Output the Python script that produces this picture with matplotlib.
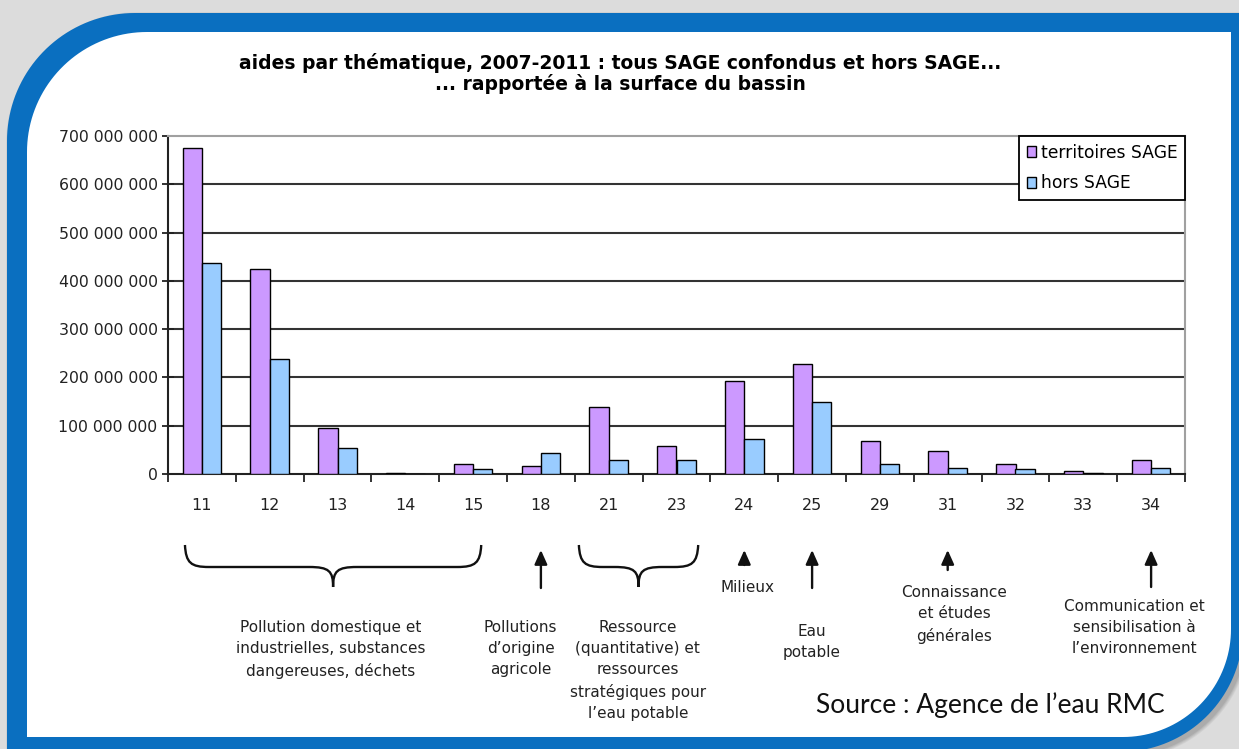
import numpy as np
import matplotlib as mpl
mpl.use('Agg')
import matplotlib.pyplot as plt
from matplotlib.patches import Polygon, Patch, PathPatch
from matplotlib.path import Path

# data
categories = ['11', '12', '13', '14', '15', '18', '21', '23', '24', '25', '29', '31', '32', '33', '34']
territoires_sage = [676e6, 424e6, 96e6, 3e6, 20e6, 17e6, 139e6, 58e6, 193e6, 227e6, 68e6, 48e6, 20e6, 7e6, 30e6]
hors_sage = [438e6, 238e6, 53e6, 0.5e6, 10e6, 44e6, 30e6, 30e6, 72e6, 149e6, 20e6, 13e6, 10e6, 3e6, 13e6]
yticks = [0, 100e6, 200e6, 300e6, 400e6, 500e6, 600e6, 700e6]

title1 = 'aides par thématique, 2007-2011 : tous SAGE confondus et hors SAGE...'
title2 = '... rapportée à la surface du bassin'

# (x position in category units, top y in px, text)
group_labels = [
    (1.9, 620, 'Pollution domestique et\nindustrielles, substances\ndangereuses, déchets'),
    (4.7, 620, 'Pollutions\nd\u2019origine\nagricole'),
    (6.43, 620, 'Ressource\n(quantitative) et\nressources\nstratégiques pour\nl\u2019eau potable'),
    (9.0, 624, 'Eau\npotable'),
    (11.1, 585, 'Connaissance\net études\ngénérales'),
    (13.76, 599, 'Communication et\nsensibilisation à\nl\u2019environnement'),
]
braces = [(-0.25, 4.12), (5.56, 7.32)]
arrows = [(5, 588), (8, 565), (9, 588), (11, 570), (14, 587)]  # category index, tail y (px)

W, H = 1239, 749
c_purple = '#cc99ff'
c_blue = '#99ccff'
c_frame = '#0a6fc0'
font = ['DejaVu Sans']

fig = plt.figure(figsize=(W/100.0, H/100.0), dpi=100, facecolor='#dcdcdc')

# background axes in pixel coords (y down)
bg = fig.add_axes([0, 0, 1, 1], zorder=0)
bg.set_xlim(0, W)
bg.set_ylim(H, 0)
bg.axis('off')


def diag_rect(x0, y0, x1, y1, r_tl, r_br):
    t = np.linspace(0, np.pi/2, 40)
    tl = np.column_stack([x0 + r_tl - r_tl*np.cos(t), y0 + r_tl - r_tl*np.sin(t)])
    br = np.column_stack([x1 - r_br + r_br*np.cos(t), y1 - r_br + r_br*np.sin(t)])
    return np.vstack([tl, [[x1, y0]], br, [[x0, y1]]])

# soft shadow
for k, a in enumerate([0.05, 0.05, 0.06, 0.07]):
    d = 4 - k
    bg.add_patch(Polygon(diag_rect(7 - d + 3, 13 - d + 3, 1243 + d + 3, 752 + d + 3, 128 + d, 123 + d),
                         closed=True, facecolor='black', edgecolor='none', alpha=a))
bg.add_patch(Polygon(diag_rect(7, 13, 1243, 752, 128, 123), closed=True, facecolor=c_frame, edgecolor='none'))
bg.add_patch(Polygon(diag_rect(27, 32, 1231, 737, 120, 108), closed=True, facecolor='white', edgecolor='none'))

# title
bg.text(620, 63, title1, ha='center', va='center', fontsize=13.5, fontweight='bold', family=font)
bg.text(620, 84, title2, ha='center', va='center', fontsize=13.5, fontweight='bold', family=font)

# chart
ax = fig.add_axes([168/W, (H-474)/H, (1185-168)/W, (474-136)/H], zorder=1)
ax.set_facecolor('white')
x = np.arange(len(categories))
bw = 1/3.5
ax.bar(x - bw/2, territoires_sage, bw, color=c_purple, edgecolor='black', linewidth=1.0, zorder=3, label='territoires SAGE')
ax.bar(x + bw/2, hors_sage, bw, color=c_blue, edgecolor='black', linewidth=1.0, zorder=3, label='hors SAGE')

ax.set_xlim(-0.5, len(categories) - 0.5)
ax.set_ylim(0, 700e6)
ax.set_yticks(yticks)
ax.set_yticklabels([('%d' % v if v == 0 else '{:,}'.format(int(v)).replace(',', ' ')) for v in yticks],
                   fontsize=11.3, family=font, color='#222222')
for v in yticks[1:-1]:
    ax.axhline(v, color='#333333', linewidth=1.5, zorder=1)

ax.set_xticks(np.arange(-0.5, len(categories), 1.0))
ax.set_xticklabels([])
ax.set_xticks(x, minor=True)
ax.set_xticklabels(categories, minor=True, fontsize=11.5, family=font, color='#222222')
ax.tick_params(axis='x', which='major', direction='out', length=6, width=1.3, color='#222222')
ax.tick_params(axis='x', which='minor', length=0, pad=17)
ax.tick_params(axis='y', which='major', direction='inout', length=9, width=1.3, color='#222222', pad=3)

for s in ['left', 'bottom']:
    ax.spines[s].set_color('#222222')
    ax.spines[s].set_linewidth(1.5)
for s in ['top', 'right']:
    ax.spines[s].set_color('#a0a0a0')
    ax.spines[s].set_linewidth(1.5)

leg_handles = [Patch(facecolor=c_purple, edgecolor='black', label='territoires SAGE'),
               Patch(facecolor=c_blue, edgecolor='black', label='hors SAGE')]
leg = ax.legend(handles=leg_handles, loc='upper right', bbox_to_anchor=(1.0, 1.0), borderaxespad=0,
                fancybox=False, edgecolor='black', framealpha=1, prop={'family': font, 'size': 12.3},
                handlelength=0.55, handleheight=0.55, handletextpad=0.25, labelspacing=0.75,
                borderpad=0.45)
leg.get_frame().set_linewidth(1.3)


# helpers: category index -> bg pixel x
def px(xc):
    return ax.transData.transform((xc, 0))[0]

# braces
for a, b in braces:
    x0, x1 = px(a), px(b)
    xm = (x0 + x1) / 2
    yt, yl, yp = 545, 567, 587
    c = 24
    verts = [(x0, yt), (x0 + 1, yl - 4), (x0 + 6, yl), (x0 + c, yl),
             (xm - c, yl), (xm - 4, yl), (xm, yl + 4), (xm, yp),
             (xm, yl + 4), (xm + 4, yl), (xm + c, yl),
             (x1 - c, yl), (x1 - 6, yl), (x1 - 1, yl - 4), (x1, yt)]
    codes = [Path.MOVETO, Path.CURVE4, Path.CURVE4, Path.CURVE4,
             Path.LINETO, Path.CURVE4, Path.CURVE4, Path.CURVE4,
             Path.CURVE4, Path.CURVE4, Path.CURVE4,
             Path.LINETO, Path.CURVE4, Path.CURVE4, Path.CURVE4]
    bg.add_patch(PathPatch(Path(verts, codes), facecolor='none', edgecolor='#111111', linewidth=1.7))

# arrows
for xi, ytail in arrows:
    xa = px(xi)
    bg.annotate('', xy=(xa, 550), xytext=(xa, ytail),
                arrowprops=dict(arrowstyle='-|>,head_length=0.85,head_width=0.38', color='#111111',
                                lw=1.7, shrinkA=0, shrinkB=0))

bg.text(px(8.04), 588, 'Milieux', ha='center', va='center', fontsize=11, family=font, color='#222222')
for xc, ytop, txt in group_labels:
    bg.text(px(xc), ytop, txt, ha='center', va='top', fontsize=11, family=font, color='#222222',
            linespacing=1.52)

bg.text(990, 705, 'Source : Agence de l\u2019eau RMC', ha='center', va='center', fontsize=19,
        family=['Lato', 'DejaVu Sans'], color='#111111')

fig.savefig('out.png', dpi=100, facecolor=fig.get_facecolor())
